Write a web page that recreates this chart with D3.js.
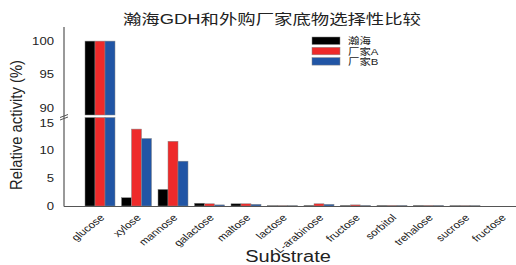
<!DOCTYPE html>
<html>
<head>
<meta charset="utf-8">
<script src="https://cdn.jsdelivr.net/npm/d3@7"></script>
<style>
  body { margin: 0; background: #fff; }
  text { font-family: "Liberation Sans", Arial, "Noto Sans CJK SC", sans-serif; fill: #222; }
</style>
</head>
<body>
<div id="chart"></div>
<script>
// data
var substrates = ["glucose", "xylose", "mannose", "galactose", "maltose", "lactose",
    "L-arabinose", "fructose", "sorbitol", "trehalose", "sucrose", "fructose"];
var seriesNames = ["瀚海", "厂家A", "厂家B"];
var hanhai = [100, 1.5, 3.0, 0.5, 0.4, 0.05, 0.1, 0.1, 0.1, 0.1, 0.05, 0];
var vendorA = [100, 13.9, 11.7, 0.4, 0.4, 0.05, 0.4, 0.2, 0.1, 0.1, 0.05, 0];
var vendorB = [100, 12.2, 8.1, 0.2, 0.3, 0.05, 0.3, 0.1, 0.1, 0.1, 0.05, 0];
var upperTicks = [90, 95, 100];
var lowerTicks = [0, 5, 10, 15];
var colors = ["#000000", "#ee2a2a", "#2155a5"];

var width = 516, height = 265;
var sx = 1.25; // picture looks stretched sideways

var svg = d3.select("#chart").append("svg")
    .attr("width", width)
    .attr("height", height);

var series = [hanhai, vendorA, vendorB];
var rows = substrates.map(function (s, i) {
    return { i: i, name: s, vals: series.map(function (v) { return v[i]; }) };
});

//scales
var x = d3.scaleBand()
    .domain(d3.range(substrates.length))
    .range([81.75, 519.75])
    .paddingInner(0.178)
    .paddingOuter(0.089);
var xs = d3.scaleBand()
    .domain(d3.range(3))
    .range([0, x.bandwidth()]);

var yUp = d3.scaleLinear().domain([89, 101.8]).range([115, 29]);
var yLow = d3.scaleLinear().domain([0, 15]).range([206, 123]);
var lowTop = 117.5;

// bars
var groups = svg.append("g").selectAll("g")
    .data(rows)
    .enter().append("g")
    .attr("transform", d => "translate(" + x(d.i) + ",0)");

groups.selectAll("rect.low")
    .data(d => d.vals.map((v, k) => ({ v: v, k: k })))
    .enter().append("rect")
    .attr("class", "low")
    .attr("x", d => xs(d.k))
    .attr("width", xs.bandwidth())
    .attr("y", d => Math.max(yLow(d.v), lowTop))
    .attr("height", d => yLow(0) - Math.max(yLow(d.v), lowTop))
    .attr("fill", d => colors[d.k])
    .attr("stroke", "#888")
    .attr("stroke-width", 0.5);

groups.selectAll("rect.up")
    .data(d => d.vals.filter(v => v > yUp.domain()[0]).map((v, k) => ({ v: v, k: k })))
    .enter().append("rect")
    .attr("class", "up")
    .attr("x", d => xs(d.k))
    .attr("width", xs.bandwidth())
    .attr("y", d => yUp(d.v))
    .attr("height", d => yUp(yUp.domain()[0]) - yUp(d.v))
    .attr("fill", d => colors[d.k])
    .attr("stroke", "#888")
    .attr("stroke-width", 0.5);

// axes
var axisX = 64;
svg.append("line")
    .attr("x1", axisX).attr("x2", axisX)
    .attr("y1", 27).attr("y2", 206.5)
    .attr("stroke", "#555").attr("stroke-width", 1.2);
svg.append("line")
    .attr("x1", axisX).attr("x2", width)
    .attr("y1", 206.5).attr("y2", 206.5)
    .attr("stroke", "#555").attr("stroke-width", 1.2);

// break marks
[0, 2.5].forEach(function (dy) {
    svg.append("line")
        .attr("x1", axisX - 4).attr("y1", 117.5 + dy)
        .attr("x2", axisX + 4).attr("y2", 114.5 + dy)
        .attr("stroke", "#555").attr("stroke-width", 1);
});

function ylabel(v, y) {
    svg.append("text")
        .attr("transform", "translate(54," + y + ") scale(" + sx + ",1)")
        .attr("text-anchor", "end")
        .attr("dy", "0.35em")
        .style("font-size", "10.5px")
        .text(v);
}
upperTicks.forEach(v => ylabel(v, yUp(v)));
lowerTicks.forEach(v => ylabel(v, yLow(v)));

// x labels
svg.append("g").selectAll("text")
    .data(rows)
    .enter().append("text")
    .attr("transform", d => "translate(" + (x(d.i) + x.bandwidth() / 2 + 1) + ",215) scale(1.25,1) rotate(-45)")
    .attr("text-anchor", "end")
    .attr("dy", "0.5em")
    .style("font-size", "9.5px")
    .text(d => d.name);

svg.append("text")
    .attr("transform", "translate(288,262) scale(" + sx + ",1)")
    .attr("text-anchor", "middle")
    .style("font-size", "16px")
    .text("Substrate");

svg.append("text")
    .attr("transform", "translate(22,125) rotate(-90)")
    .attr("text-anchor", "middle")
    .attr("textLength", 130)
    .attr("lengthAdjust", "spacingAndGlyphs")
    .style("font-size", "16px")
    .text("Relative activity (%)");

// title
svg.append("text")
    .attr("x", 272).attr("y", 24)
    .attr("text-anchor", "middle")
    .attr("textLength", 298)
    .attr("lengthAdjust", "spacingAndGlyphs")
    .style("font-size", "14px")
    .text("瀚海GDH和外购厂家底物选择性比较");

// legend
var legend = svg.append("g").selectAll("g")
    .data(seriesNames)
    .enter().append("g")
    .attr("transform", (d, i) => "translate(312," + (37 + i * 10.3) + ")");
legend.append("rect")
    .attr("width", 28).attr("height", 7.5)
    .attr("fill", (d, i) => colors[i])
    .attr("stroke", "#888").attr("stroke-width", 0.5);
legend.append("text")
    .attr("transform", "translate(36,4) scale(1.2,1)")
    .attr("dy", "0.35em")
    .style("font-size", "9.5px")
    .text(d => d);
</script>
</body>
</html>
